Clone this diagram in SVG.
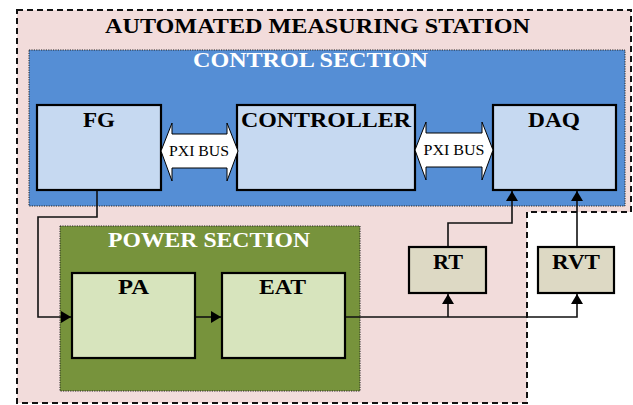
<svg xmlns="http://www.w3.org/2000/svg" width="633" height="405" viewBox="0 0 633 405">
<style>
text{font-family:'Liberation Serif','DejaVu Serif','Times New Roman',serif}
.t{font-weight:bold;text-anchor:middle}
.blk{fill:#000}
.wht{fill:#fff}
.box{stroke:#000;stroke-width:2.2}
.ctl{fill:#C6D9F1}
.pwr{fill:#D7E4BD}
.snd{fill:#DDD9C4}
.sec{stroke:#222;stroke-width:1;stroke-dasharray:1.2 1.2}
.bus{fill:#fff;stroke:#000;stroke-width:1}
.pxi{font-size:14px;text-anchor:middle;fill:#000}
.con{fill:none;stroke:#111;stroke-width:1.6;marker-end:url(#ah)}
</style>
<defs>
<marker id="ah" viewBox="0 0 10 12" refX="10" refY="6" markerWidth="10" markerHeight="12" markerUnits="userSpaceOnUse" orient="auto">
<path d="M0,0 L10,6 L0,12 Z" fill="#000"/>
</marker>
</defs>
<g id="station">
<path d="M17,10 H631 V212 H527 V403 H17 Z" fill="#F2DCDB" stroke="#111" stroke-width="2" stroke-dasharray="6 4"/>
<text class="t blk" x="317.5" y="33" font-size="22" textLength="425" lengthAdjust="spacingAndGlyphs">AUTOMATED MEASURING STATION</text>
</g>
<g id="control-section">
<rect class="sec" x="29" y="50" width="596" height="156" fill="#558ED5"/>
<text class="t wht" x="310.5" y="67" font-size="20" textLength="235" lengthAdjust="spacingAndGlyphs">CONTROL SECTION</text>
</g>
<g id="power-section">
<rect class="sec" x="60" y="226" width="300" height="165" fill="#77933C"/>
<text class="t wht" x="209" y="247" font-size="20" textLength="202" lengthAdjust="spacingAndGlyphs">POWER SECTION</text>
</g>
<g id="fg">
<rect class="box ctl" x="37" y="105" width="124" height="85"/>
<text class="t blk" x="99" y="127" font-size="20" textLength="32" lengthAdjust="spacingAndGlyphs">FG</text>
</g>
<g id="controller">
<rect class="box ctl" x="237" y="105" width="178" height="85"/>
<text class="t blk" x="326" y="127" font-size="20" textLength="170" lengthAdjust="spacingAndGlyphs">CONTROLLER</text>
</g>
<g id="daq">
<rect class="box ctl" x="493" y="105" width="123" height="85"/>
<text class="t blk" x="554" y="127" font-size="20" textLength="52" lengthAdjust="spacingAndGlyphs">DAQ</text>
</g>
<g id="pxi-bus-1">
<polygon class="bus" points="161,151 172,123 172,134 227,134 227,123 238,151 227,181 227,168 172,168 172,181"/>
<text class="pxi" x="199" y="156" textLength="60" lengthAdjust="spacingAndGlyphs">PXI BUS</text>
</g>
<g id="pxi-bus-2">
<polygon class="bus" points="415,150 426,122 426,133 482,133 482,122 493,150 482,180 482,167 426,167 426,180"/>
<text class="pxi" x="454" y="155" textLength="61" lengthAdjust="spacingAndGlyphs">PXI BUS</text>
</g>
<g id="pa">
<rect class="box pwr" x="72" y="273" width="123" height="85"/>
<text class="t blk" x="133.5" y="294" font-size="20" textLength="31" lengthAdjust="spacingAndGlyphs">PA</text>
</g>
<g id="eat">
<rect class="box pwr" x="222" y="273" width="123" height="85"/>
<text class="t blk" x="282.5" y="294" font-size="20" textLength="47" lengthAdjust="spacingAndGlyphs">EAT</text>
</g>
<g id="rt">
<rect class="box snd" x="409" y="247" width="77" height="46"/>
<text class="t blk" x="448" y="269" font-size="20" textLength="30" lengthAdjust="spacingAndGlyphs">RT</text>
</g>
<g id="rvt">
<rect class="box snd" x="538" y="247" width="76" height="46"/>
<text class="t blk" x="576" y="269" font-size="20" textLength="48" lengthAdjust="spacingAndGlyphs">RVT</text>
</g>
<g id="connectors">
<path class="con" d="M97,191 V217 H38 V317 H71"/>
<path class="con" d="M196,317 H221"/>
<path class="con" d="M346,317 H577 V294"/>
<path class="con" d="M448,317 V294"/>
<path class="con" d="M448,246 V223 H512 V191"/>
<path class="con" d="M577,246 V191"/>
</g>
</svg>
